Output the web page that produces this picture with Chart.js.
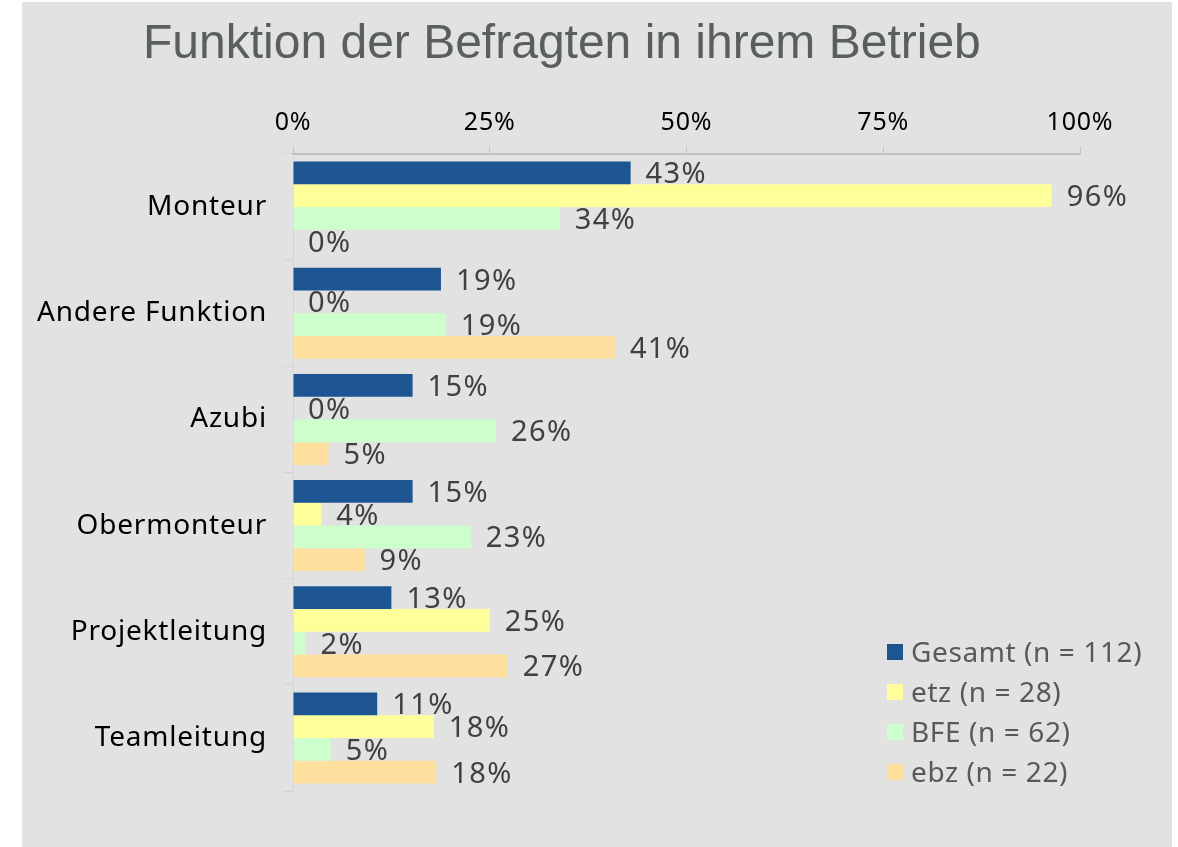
<!DOCTYPE html>
<html>
<head>
<meta charset="utf-8">
<script src="https://cdn.jsdelivr.net/npm/chart.js@4/dist/chart.umd.min.js"></script>
<style>
    body { margin: 0; background: #ffffff; }
    #panel { position: absolute; left: 22px; top: 2px; width: 1150px; height: 845px; background: #e1e2e1; }
</style>
</head>
<body>
<div id="panel"><canvas id="chart" width="1150" height="845"></canvas></div>
<script>
// Werte aus der Grafik (Anteile in %)
const categories = ['Monteur', 'Andere Funktion', 'Azubi', 'Obermonteur', 'Projektleitung', 'Teamleitung'];
const seriesNames = ['Gesamt (n = 112)', 'etz (n = 28)', 'BFE (n = 62)', 'ebz (n = 22)'];
const gesamt = [42.9, 18.8, 15.2, 15.2, 12.5, 10.7];
const etz = [96.4, 0, 0, 3.6, 25.0, 17.9];
const bfe = [33.9, 19.4, 25.8, 22.6, 1.6, 4.8];
const ebz = [0, 40.9, 4.5, 9.1, 27.3, 18.2];
const xTicks = [0, 25, 50, 75, 100];
const colors = ['#1c5592', '#ffff99', '#ccffcc', '#ffe09f'];
const chartTitle = 'Funktion der Befragten in ihrem Betrieb';

const titlePlugin = {
    id: 'titlePlugin',
    beforeDraw(chart) {
        // etwas breitere Laufweite fuer die Achsenbeschriftungen
        chart.ctx.letterSpacing = '0.8px';
    },
    afterDraw(chart) {
        const ctx = chart.ctx;
        ctx.save();
        ctx.letterSpacing = '0px';
        ctx.font = '48px "Liberation Sans", Arial, sans-serif';
        ctx.fillStyle = '#595f5f';
        ctx.textBaseline = 'alphabetic';
        ctx.textAlign = 'left';
        ctx.fillText(chartTitle, 121, 56);
        ctx.restore();
    }
};

// Datenbeschriftungen rechts neben den Balken
const labelPlugin = {
    id: 'labelPlugin',
    afterDatasetsDraw(chart) {
        const ctx = chart.ctx;
        ctx.save();
        ctx.letterSpacing = '1.4px';
        ctx.font = '29px "Noto Sans", sans-serif';
        ctx.fillStyle = '#404040';
        ctx.textBaseline = 'alphabetic';
        ctx.textAlign = 'left';
        chart.data.datasets.forEach((ds, i) => {
            chart.getDatasetMeta(i).data.forEach((bar, j) => {
                ctx.fillText(Math.round(ds.data[j]) + '%', bar.x + 15, bar.y + 10.5);
            });
        });
        ctx.restore();
    }
};

// Legende unten rechts
const legendPlugin = {
    id: 'legendPlugin',
    afterDraw(chart) {
        const ctx = chart.ctx;
        ctx.save();
        ctx.letterSpacing = '0.6px';
        ctx.font = '28px "Noto Sans", sans-serif';
        ctx.textBaseline = 'alphabetic';
        chart.data.datasets.forEach((ds, i) => {
            const y = 650 + i * 40;
            ctx.fillStyle = ds.backgroundColor;
            ctx.fillRect(865, y - 8, 16, 16);
            ctx.fillStyle = '#595959';
            ctx.fillText(ds.label, 889, y + 10);
        });
        ctx.restore();
    }
};

new Chart(document.getElementById('chart'), {
    type: 'bar',
    data: {
        labels: categories,
        datasets: [gesamt, etz, bfe, ebz].map((values, i) => ({
            label: seriesNames[i],
            data: values,
            backgroundColor: colors[i],
            borderWidth: 0,
            categoryPercentage: 0.857,
            barPercentage: 1
        }))
    },
    options: {
        indexAxis: 'y',
        responsive: false,
        animation: false,
        layout: { padding: { left: 0, top: 0, right: 92, bottom: 56 } },
        plugins: {
            legend: { display: false },
            title: { display: false },
            tooltip: { enabled: false }
        },
        scales: {
            x: {
                position: 'top',
                min: 0,
                max: 100,
                afterFit: (s) => { s.height = 152; },
                afterBuildTicks: (s) => { s.ticks = xTicks.map(v => ({ value: v })); },
                ticks: {
                    callback: (v) => v + '%',
                    color: '#000000',
                    font: { family: '"Noto Sans", sans-serif', size: 25 },
                    padding: 9,
                    maxRotation: 0
                },
                grid: { drawOnChartArea: false, tickLength: 7, color: '#bcc1c1' },
                border: { color: '#bcc1c1', width: 2 }
            },
            y: {
                afterFit: (s) => { s.width = 271; },
                ticks: {
                    color: '#000000',
                    font: { family: '"Noto Sans", sans-serif', size: 28 },
                    padding: 16
                },
                grid: { drawOnChartArea: false, tickLength: 10, color: '#d2d5d5', offset: true },
                border: { color: '#d2d5d5', width: 1 }
            }
        }
    },
    plugins: [titlePlugin, labelPlugin, legendPlugin]
});
</script>
</body>
</html>
